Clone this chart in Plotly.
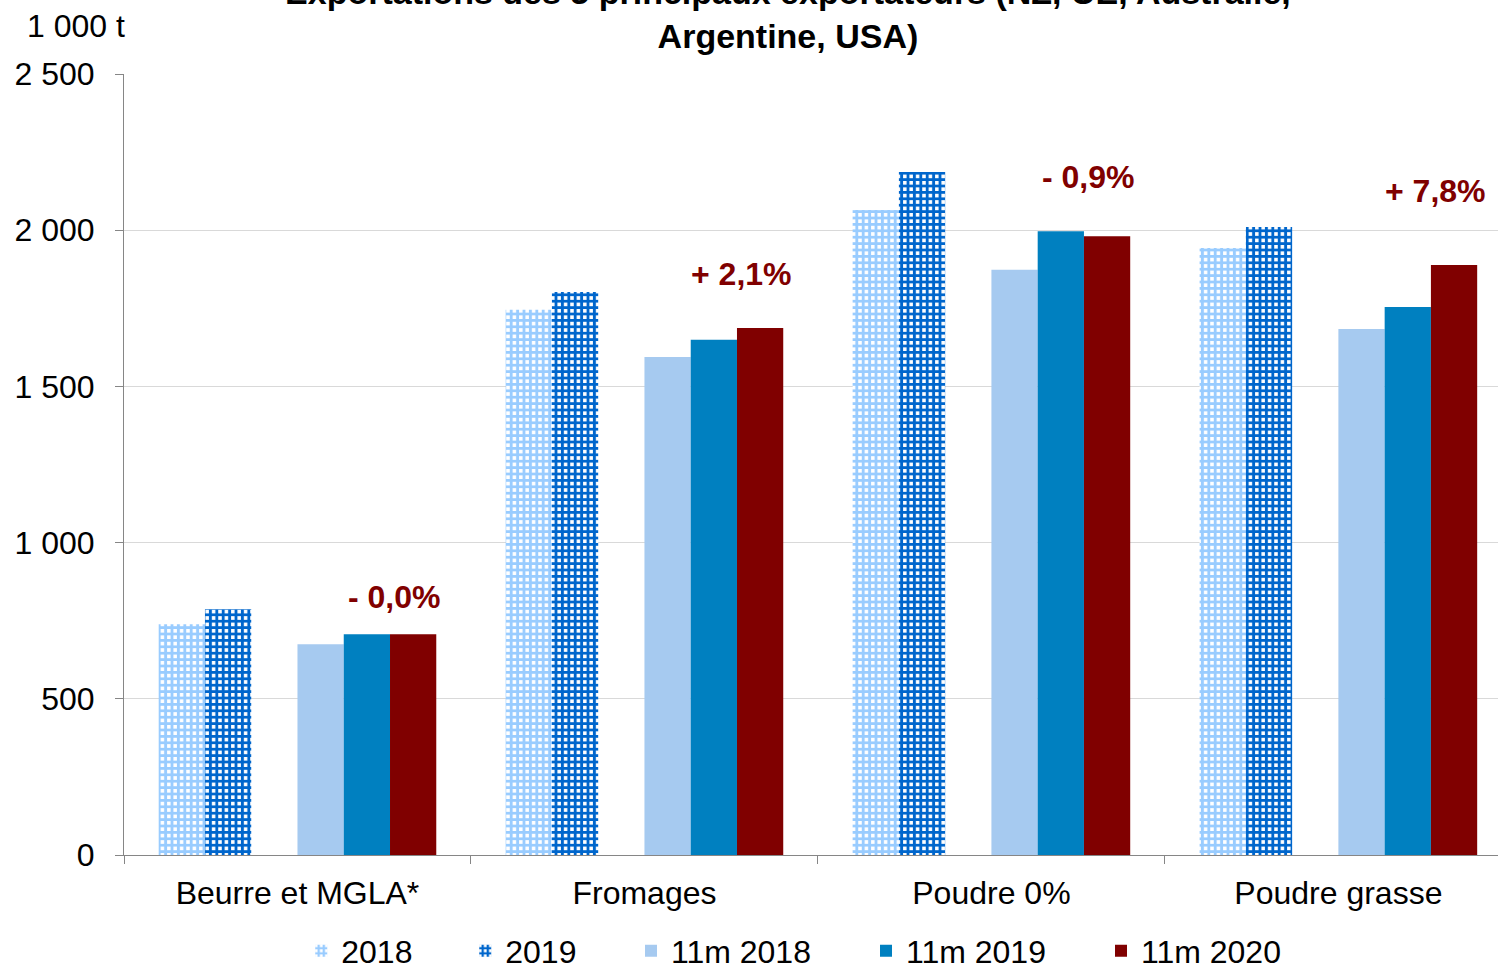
from plotly import graph_objects as go

categories = ["Beurre et MGLA*", "Fromages", "Poudre 0%", "Poudre grasse"]
series_names = ["2018", "2019", "11m 2018", "11m 2019", "11m 2020"]
val_2018 = [739, 1745, 2065, 1943]
val_2019 = [787, 1802, 2186, 2010]
val_11m_2018 = [675, 1594, 1873, 1684]
val_11m_2019 = [707, 1649, 1997, 1754]
val_11m_2020 = [707, 1687, 1981, 1889]
evolution_labels = ["- 0,0%", "+ 2,1%", "- 0,9%", "+ 7,8%"]

FONT = "Liberation Sans, Arial, sans-serif"


def hatched(color):
    return dict(color="white", line_width=0,
                pattern=dict(shape="+", fgcolor=color, bgcolor="white",
                             size=6.4, solidity=0.7, fillmode="replace"))


fig = go.Figure()

# annual series, hatched
fig.add_trace(go.Bar(x=categories, y=val_2018, name=series_names[0],
                     marker=hatched("#99CCFF"), legend="legend"))
fig.add_trace(go.Bar(x=categories, y=val_2019, name=series_names[1],
                     marker=hatched("#0066CC"), legend="legend"))
# empty slot -> gap between the two groups of bars
fig.add_trace(go.Bar(x=categories, y=[None] * len(categories), showlegend=False,
                     hoverinfo="skip"))
fig.add_trace(go.Bar(x=categories, y=val_11m_2018, name=series_names[2],
                     marker=dict(color="#A6CAF0", line_width=0), legend="legend2"))
fig.add_trace(go.Bar(x=categories, y=val_11m_2019, name=series_names[3],
                     marker=dict(color="#0080C0", line_width=0), legend="legend2"))
fig.add_trace(go.Bar(x=categories, y=val_11m_2020, name=series_names[4],
                     marker=dict(color="#800000", line_width=0), legend="legend2"))

label_yshift = [37, 54, 59, 74]
for cat, val, txt, ys in zip(categories, val_11m_2020, evolution_labels, label_yshift):
    fig.add_annotation(x=cat, y=val, text=f"<b>{txt}</b>", showarrow=False,
                       xshift=97, yshift=ys, yanchor="middle",
                       font=dict(family=FONT, size=32, color="#800000"))

fig.add_annotation(xref="paper", yref="paper", x=0.002, y=1.0, yshift=48,
                   text="1 000 t", showarrow=False, xanchor="right", yanchor="middle",
                   font=dict(family=FONT, size=32, color="black"))

legend_style = dict(orientation="h", xanchor="left", yref="container",
                    y=1 - 951 / 967, yanchor="middle",
                    font=dict(family=FONT, size=32), itemwidth=30,
                    entrywidthmode="pixels", bgcolor="rgba(0,0,0,0)")

fig.update_layout(
    width=1498, height=967,
    margin=dict(l=124, r=0, t=74, b=112),
    paper_bgcolor="white", plot_bgcolor="white",
    font=dict(family=FONT, size=32, color="black"),
    separators=", ",
    barmode="group", bargap=0.2, bargroupgap=0,
    title=dict(text="<b>Exportations des 5 principaux exportateurs (NZ, UE, Australie,<br>Argentine, USA)</b>",
               x=0.526, xanchor="center", y=0.996, yanchor="middle",
               font=dict(family=FONT, size=34, color="black")),
    legend=dict(legend_style, x=0.129, entrywidth=119),
    legend2=dict(legend_style, x=0.369, entrywidth=190),
    showlegend=True,
)
# the original chart runs slightly past the right edge of the picture
fig.update_xaxes(range=[-0.5, 3.46],
                 showline=True, linecolor="#868686", linewidth=1,
                 ticks="outside", tickson="boundaries", ticklen=8, tickcolor="#868686",
                 showgrid=False, ticklabelstandoff=10, automargin=False)
fig.update_yaxes(range=[0, 2500], dtick=500, tickformat=",d",
                 showline=True, linecolor="#868686", linewidth=1,
                 ticks="outside", ticklen=8, tickcolor="#868686",
                 showgrid=True, gridcolor="#D9D9D9", gridwidth=1,
                 zeroline=False, ticklabelstandoff=14, automargin=False)

# drop the default page margin so the 1498x967 figure fills the window exactly
fig.write_html("out.html", config={"displayModeBar": False},
               post_script="document.body.style.margin='0px';")
